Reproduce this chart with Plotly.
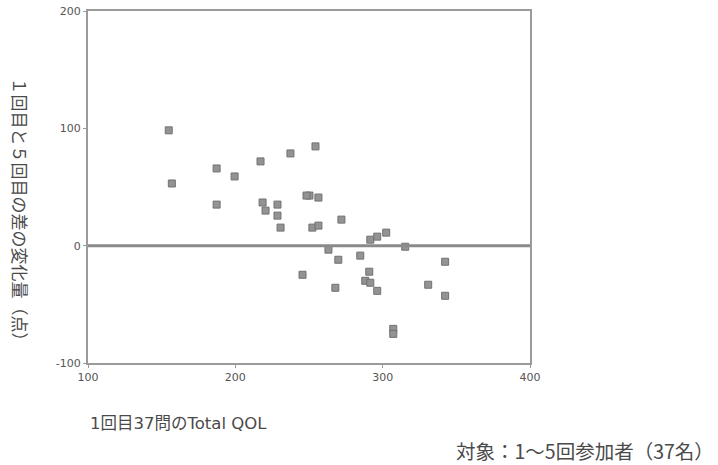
import plotly.graph_objects as go

# Data (x: 1st-session Total QOL, y: change between 1st and 5th)
total_qol = [154.8, 156.9, 187.3, 199.5, 187.3, 217.1, 237.4, 254.4, 218.5, 220.5,
             228.6, 228.6, 230.7, 250.3, 256.4, 252.3, 256.4, 272.0, 263.2, 269.9,
             245.6, 267.9, 284.8, 290.9, 288.2, 291.6, 296.3, 291.6, 296.3, 302.4,
             315.3, 342.4, 330.9, 342.4, 307.2, 307.2, 248.3]
change = [98.3, 53.0, 65.8, 59.0, 35.0, 71.8, 78.6, 84.6, 36.8, 29.9,
          35.0, 25.6, 15.4, 42.7, 41.0, 15.4, 17.1, 22.2, -3.4, -12.0,
          -24.8, -35.9, -8.5, -22.2, -29.9, -31.6, -38.5, 5.1, 7.7, 11.1,
          -0.9, -13.7, -33.3, -42.7, -70.9, -75.2, 42.7]

x_ticks = [100, 200, 300, 400]
y_ticks = [-100, 0, 100, 200]
y_ticktext = ["-100", "0", "100", "200"]

x_title = "1回目37問のTotal QOL"
y_title = "１回目と５回目の差の変化量（点）"
note = "対象：1～5回参加者（37名）"

CJK = "Noto Sans CJK JP"
MIX = "DejaVu Sans, Noto Sans CJK JP"

fig = go.Figure()
fig.add_trace(go.Scatter(
    x=total_qol, y=change, mode="markers",
    marker=dict(symbol="square", size=7, color="#939393",
                line=dict(color="#727272", width=1)),
    showlegend=False, cliponaxis=False,
))

fig.add_hline(y=0, line=dict(color="#8a8a8a", width=3))

axis_common = dict(
    showgrid=False, zeroline=False, automargin=False,
    showline=True, linecolor="#9a9a9a", linewidth=2, mirror=True,
    ticks="outside", ticklen=3, tickcolor="#9a9a9a",
    tickfont=dict(family="DejaVu Sans", size=11, color="#555555"),
)
fig.update_xaxes(range=[100, 400], tickvals=x_ticks, **axis_common)
fig.update_yaxes(range=[-100, 200], tickvals=y_ticks, ticktext=y_ticktext, **axis_common)

fig.update_layout(
    width=718, height=465,
    margin=dict(l=88, r=188, t=11, b=102, autoexpand=False),
    paper_bgcolor="white", plot_bgcolor="white",
    font=dict(family=CJK, color="#444444"),
    annotations=[
        dict(text=x_title, xref="paper", yref="paper", x=0.0, y=-0.173,
             xanchor="left", yanchor="middle", showarrow=False,
             font=dict(family=MIX, size=16.5, color="#4a4a4a")),
        dict(text=y_title, xref="paper", yref="paper", x=(21 - 88) / 442, y=0.425,
             xanchor="center", yanchor="middle", textangle=90, showarrow=False,
             font=dict(family=CJK, size=17, color="#4a4a4a")),
        dict(text=note, xref="paper", yref="paper", x=(716 - 88) / 442, y=-0.248,
             xanchor="right", yanchor="middle", showarrow=False,
             font=dict(family=CJK, size=19.5, color="#4a4a4a")),
    ],
)

fig.write_html(
    "out.html",
    config={"displayModeBar": False},
    post_script="document.body.style.margin='0';document.body.style.padding='0';",
)
